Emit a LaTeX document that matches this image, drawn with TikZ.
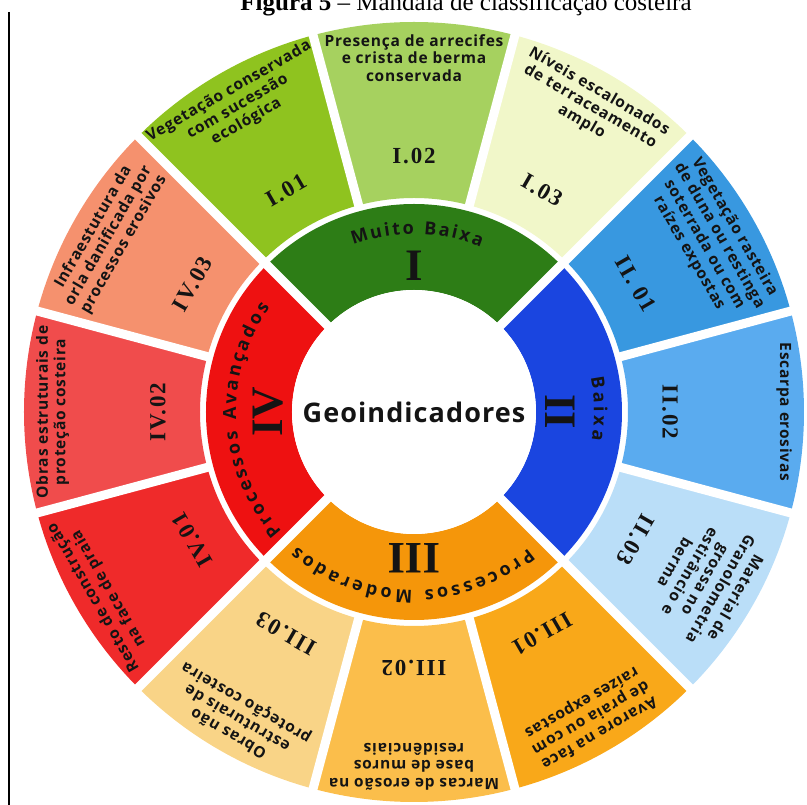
\documentclass[tikz,border=0pt]{standalone}
\usepackage{fontspec}
\setmainfont{Liberation Serif}
\newfontfamily\descfam[LetterSpace=5]{Open Sans}
\newfontfamily\arcfam[LetterSpace=4]{Open Sans}
\newfontfamily\geofam[LetterSpace=4]{Open Sans}
\newfontfamily\labfam[LetterSpace=8]{Liberation Serif}
\usetikzlibrary{decorations.text}

% ring colours
\definecolor{cI}{HTML}{2D7D16}
\definecolor{cII}{HTML}{1A45E0}
\definecolor{cIII}{HTML}{F5960A}
\definecolor{cIV}{HTML}{EE1111}
\definecolor{cIa}{HTML}{8FC31F}
\definecolor{cIb}{HTML}{A6D15F}
\definecolor{cIc}{HTML}{F1F7C9}
\definecolor{cIIa}{HTML}{3898E0}
\definecolor{cIIb}{HTML}{5AABEF}
\definecolor{cIIc}{HTML}{BADEF8}
\definecolor{cIIIa}{HTML}{F9A819}
\definecolor{cIIIb}{HTML}{FBBE4B}
\definecolor{cIIIc}{HTML}{F9D487}
\definecolor{cIVa}{HTML}{EF2A2A}
\definecolor{cIVb}{HTML}{F04C4C}
\definecolor{cIVc}{HTML}{F5916E}
\definecolor{ink}{HTML}{141414}

% annular sector: colour, start angle, end angle, inner radius, outer radius
\newcommand{\ringpart}[5]{%
  \fill[#1] (#2:#4pt) arc[start angle=#2, end angle=#3, radius=#4pt]
    -- (#3:#5pt) arc[start angle=#3, end angle=#2, radius=#5pt] -- cycle;}

\newcommand{\arcfont}{\arcfam\bfseries\fontsize{18}{21}\selectfont}

\tikzset{
  desc/.style={font=\descfam\bfseries\fontsize{15.5}{17.5}\selectfont, align=center,
    inner sep=0pt, anchor=north, text=ink},
  lab/.style={font=\labfam\bfseries\fontsize{23}{26}\selectfont, inner sep=0pt, text=ink},
  numeral/.style={font=\bfseries\fontsize{45}{48}\selectfont, inner sep=0pt, text=ink},
  gap/.style={white, line width=9pt},
  arctext/.style={decorate, decoration={text along path, text={|\arcfont|#1},
    text align={fit to path}, text color=ink}},
}

\begin{document}
\begin{tikzpicture}[x=1pt,y=1pt]
\useasboundingbox (-414,-393) rectangle (393,412);
\clip (-414,-393) rectangle (393,412);

% caption and side rule
\node[anchor=base, font=\fontsize{25}{30}\selectfont, inner sep=0pt] (title) at (52,401)
  {\textbf{Figura 5} – Mandala de classificação costeira};
\coordinate (ruletop) at (-405,400);
\coordinate (rulebot) at (-405,-393);
\draw[line width=1.5pt] (ruletop) -- (rulebot);

% inner ring
\ringpart{cI}{45}{135}{122}{208}
\ringpart{cII}{-45}{45}{122}{208}
\ringpart{cIII}{-135}{-45}{122}{208}
\ringpart{cIV}{135}{225}{122}{208}

% outer ring
\ringpart{cIa}{105}{135}{214}{390}
\ringpart{cIb}{75}{105}{214}{390}
\ringpart{cIc}{45}{75}{214}{390}
\ringpart{cIIa}{15}{45}{214}{390}
\ringpart{cIIb}{-15}{15}{214}{390}
\ringpart{cIIc}{-45}{-15}{214}{390}
\ringpart{cIIIa}{-75}{-45}{214}{390}
\ringpart{cIIIb}{-105}{-75}{214}{390}
\ringpart{cIIIc}{-135}{-105}{214}{390}
\ringpart{cIVa}{-165}{-135}{214}{390}
\ringpart{cIVb}{165}{195}{214}{390}
\ringpart{cIVc}{135}{165}{214}{390}

% separating gaps
\foreach \a in {15,45,...,345} \draw[gap] (\a:209pt) -- (\a:400pt);
\foreach \a in {45,135,225,315} \draw[gap] (\a:100pt) -- (\a:212pt);

% centre
\node[circle, fill=white, inner sep=0pt, minimum size=244pt,
  font=\geofam\bfseries\fontsize{27}{30}\selectfont, text=ink] (geo) at (0,0) {Geoindicadores};

% class numerals
\node[numeral] (nI) at (90:146pt) {I};
\node[numeral, rotate=-90] (nII) at (0:146pt) {II};
\node[numeral, rotate=180] (nIII) at (-90:146pt) {III};
\node[numeral, rotate=90] (nIV) at (180:146pt) {IV};

% class names along the ring
\path[arctext={Muito Baixa}] (110:178pt) arc[start angle=110, end angle=68, radius=178pt];
\path[arctext={Baixa}] (11:180pt) arc[start angle=11, end angle=-9, radius=180pt];
\path[arctext={Processos Moderados}] (-50:178pt) arc[start angle=-50, end angle=-131, radius=178pt];
\path[arctext={Processos Avançados}] (222:178pt) arc[start angle=222, end angle=144, radius=178pt];

% geoindicators
\node[desc, rotate=30] (t101) at (120:378pt) {Vegetação conservada\\com sucessão\\ecológica};
\node[lab, rotate=30] (l101) at (120:256pt) {I.01};
\node[desc] (t102) at (90:378pt) {Presença de arrecifes\\e crista de berma\\conservada};
\node[lab] (l102) at (90:256pt) {I.02};
\node[desc, rotate=-30] (t103) at (60:378pt) {Níveis escalonados\\de terraceamento\\amplo};
\node[lab, rotate=-30] (l103) at (60:256pt) {I.03};

\node[desc, rotate=-60] (t201) at (30:378pt) {Vegetação rasteira\\de duna ou restinga\\soterrada ou com\\raízes expostas};
\node[lab, rotate=-60] (l201) at (30:256pt) {II. 01};
\node[desc, rotate=-90] (t202) at (0:378pt) {Escarpa erosivas};
\node[lab, rotate=-90] (l202) at (0:256pt) {II.02};
\node[desc, rotate=-120] (t203) at (-30:378pt) {Material de\\Granolometria\\grossa no\\estirâncio e\\berma};
\node[lab, rotate=-120] (l203) at (-30:256pt) {II.03};

\node[desc, rotate=-150] (t301) at (-60:378pt) {Avarore na face\\de praia ou com\\raízes expostas};
\node[lab, rotate=-150] (l301) at (-60:256pt) {III.01};
\node[desc, rotate=180] (t302) at (-90:378pt) {Marcas de erosão na\\base de muros\\residênciais};
\node[lab, rotate=180] (l302) at (-90:256pt) {III.02};
\node[desc, rotate=150] (t303) at (-120:378pt) {Obras não\\estruturais de\\proteção costeira};
\node[lab, rotate=150] (l303) at (-120:256pt) {III.03};

\node[desc, rotate=120] (t401) at (-150:378pt) {Resto de construção\\na face de praia};
\node[lab, rotate=120] (l401) at (-150:256pt) {IV.01};
\node[desc, rotate=90] (t402) at (180:378pt) {Obras estruturais de\\proteção costeira};
\node[lab, rotate=90] (l402) at (180:256pt) {IV.02};
\node[desc, rotate=60] (t403) at (150:378pt) {Infraestutura da\\orla danificada por\\processos erosivos};
\node[lab, rotate=60] (l403) at (150:256pt) {IV.03};
\end{tikzpicture}
\end{document}
